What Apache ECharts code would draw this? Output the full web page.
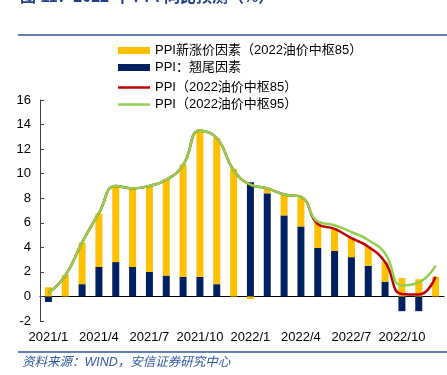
<!DOCTYPE html>
<html>
<head>
<meta charset="utf-8">
<script src="https://cdn.jsdelivr.net/npm/echarts@6/dist/echarts.min.js"></script>
<style>
  html, body { margin: 0; padding: 0; background: #fff; }
  #chart { width: 447px; height: 375px; }
</style>
</head>
<body>
<div id="chart"></div>
<script>
'use strict';

var months = [
  '2021/1', '2021/2', '2021/3', '2021/4', '2021/5', '2021/6',
  '2021/7', '2021/8', '2021/9', '2021/10', '2021/11', '2021/12',
  '2022/1', '2022/2', '2022/3', '2022/4', '2022/5', '2022/6',
  '2022/7', '2022/8', '2022/9', '2022/10', '2022/11', '2022/12'
];
// 翘尾因素
var carryOver = [-0.45, 0, 1.0, 2.4, 2.8, 2.4, 2.0, 1.7, 1.6, 1.6, 1.0, 0,
  9.3, 8.4, 6.6, 5.7, 3.95, 3.7, 3.2, 2.5, 1.2, -1.2, -1.2, 0];
// 新涨价因素
var newFactor = [0.75, 1.75, 3.4, 4.35, 6.2, 6.45, 7.0, 7.85, 9.15, 12.0, 11.9, 10.4,
  -0.2, 0.45, 1.65, 2.3, 2.2, 1.85, 1.6, 1.6, 1.6, 1.5, 1.4, 1.6];
var ppi85 = [0.3, 1.7, 4.4, 6.8, 9.0, 8.8, 9.0, 9.5, 10.7, 13.5, 12.9, 10.3,
  9.1, 8.8, 8.3, 8.1, 5.9, 5.5, 4.75, 4.05, 2.8, 0.2, 0.15, 1.6];
var ppi95 = [0.3, 1.7, 4.4, 6.8, 9.0, 8.8, 9.0, 9.5, 10.7, 13.5, 12.9, 10.3,
  9.1, 8.8, 8.3, 8.1, 6.1, 5.8, 5.25, 4.6, 3.5, 0.9, 1.15, 2.5];

var FONT = "'Liberation Sans', 'Noto Sans CJK SC', sans-serif";
var BLUE = '#2f56a0';
var legendText = { fontSize: 13, color: '#000', fontFamily: FONT };

var chart = echarts.init(document.getElementById('chart'));
chart.setOption({
  animation: false,
  textStyle: { fontFamily: FONT },
  graphic: [
    { type: 'text', x: 20, y: -2, style: { text: '图 11：2022 年 PPI 同比预测（%）', font: 'bold 16px ' + FONT, fill: '#1f3f8a', verticalAlign: 'middle' } },
    { type: 'line', shape: { x1: 18, y1: 35, x2: 447, y2: 35 }, style: { stroke: BLUE, lineWidth: 1.5 } },
    { type: 'line', shape: { x1: 18, y1: 352, x2: 447, y2: 352 }, style: { stroke: BLUE, lineWidth: 1.5 } },
    { type: 'text', x: 22, y: 363, style: { text: '资料来源：WIND，安信证券研究中心', font: 'italic 12.5px ' + FONT, fill: BLUE, verticalAlign: 'middle' } }
  ],
  legend: [
    {
      orient: 'vertical', left: 113, top: 39,
      itemWidth: 32, itemHeight: 7, itemGap: 4,
      icon: 'rect',
      textStyle: legendText,
      data: ['PPI新涨价因素（2022油价中枢85）', 'PPI：翘尾因素']
    },
    {
      orient: 'vertical', left: 113, top: 76,
      itemWidth: 32, itemHeight: 2.5, itemGap: 4,
      icon: 'rect',
      textStyle: legendText,
      data: ['PPI（2022油价中枢85）', 'PPI（2022油价中枢95）']
    }
  ],
  grid: { left: 40, right: 3, top: 100, bottom: 54 },
  xAxis: {
    type: 'category',
    data: months,
    axisLine: { onZero: true, lineStyle: { color: '#000', width: 1 } },
    axisTick: { inside: true, length: 4, interval: 2, lineStyle: { color: '#000' } },
    axisLabel: { interval: 2, margin: 10, fontSize: 13, color: '#000' },
    splitLine: { show: false }
  },
  yAxis: {
    type: 'value',
    min: -2,
    max: 16,
    interval: 2,
    axisLine: { show: true, lineStyle: { color: '#404040', width: 1 } },
    axisTick: { show: true, inside: true, length: 4, lineStyle: { color: '#404040' } },
    axisLabel: { fontSize: 13, color: '#000', margin: 9 },
    splitLine: { show: false }
  },
  series: [
    { name: 'PPI：翘尾因素', type: 'bar', stack: 'ppi', barWidth: 7, data: carryOver, itemStyle: { color: '#002060' } },
    { name: 'PPI新涨价因素（2022油价中枢85）', type: 'bar', stack: 'ppi', barWidth: 7, data: newFactor, itemStyle: { color: '#ffc000' } },
    { name: 'PPI（2022油价中枢85）', type: 'line', smooth: true, symbol: 'none', data: ppi85, lineStyle: { color: '#c00000', width: 2.5 }, itemStyle: { color: '#c00000' } },
    { name: 'PPI（2022油价中枢95）', type: 'line', smooth: true, symbol: 'none', data: ppi95, lineStyle: { color: '#92d050', width: 2.5 }, itemStyle: { color: '#92d050' } }
  ]
});
</script>
</body>
</html>
